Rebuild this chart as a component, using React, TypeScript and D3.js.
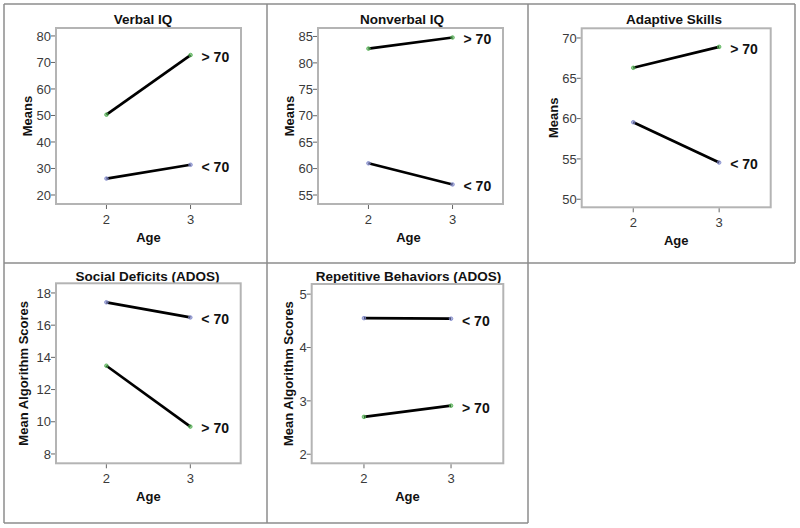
import React from "react";
import * as d3 from "d3";

// ---------- data ----------
const ages = [2, 3];
const panelTitles = [
  "Verbal IQ",
  "Nonverbal IQ",
  "Adaptive Skills",
  "Social Deficits (ADOS)",
  "Repetitive Behaviors (ADOS)",
];
const yAxisTitles = ["Means", "Means", "Means", "Mean Algorithm Scores", "Mean Algorithm Scores"];
const xAxisTitle = "Age";
const groupLabels = ["> 70", "< 70"];

// values at age 2 and 3 for the "> 70" group
const aboveValues = [
  [50.3, 72.8],
  [82.7, 84.8],
  [66.3, 68.9],
  [13.48, 9.7],
  [2.7, 2.91],
];
// values at age 2 and 3 for the "< 70" group
const belowValues = [
  [26.2, 31.4],
  [61.0, 57.0],
  [59.55, 54.55],
  [17.42, 16.48],
  [4.55, 4.54],
];

const yTicks = [
  [20, 30, 40, 50, 60, 70, 80],
  [55, 60, 65, 70, 75, 80, 85],
  [50, 55, 60, 65, 70],
  [8, 10, 12, 14, 16, 18],
  [2, 3, 4, 5],
];
const yDomains = [
  [16.6, 83.0],
  [53.3, 86.6],
  [49.0, 71.2],
  [7.42, 18.6],
  [1.83, 5.19],
];
const xDomain = [1.4, 3.6];

// ---------- layout ----------
const layout = [
  { left: 56, right: 241, top: 28, bottom: 204, titleX: 143, titleY: 24, yTitleX: 31.5 },
  { left: 318, right: 503, top: 28, bottom: 204, titleX: 402, titleY: 24, yTitleX: 294.3 },
  { left: 581.7, right: 770.7, top: 28.3, bottom: 207.3, titleX: 674, titleY: 24, yTitleX: 557.7 },
  { left: 56, right: 240.7, top: 283.3, bottom: 463.3, titleX: 147.5, titleY: 280.7, yTitleX: 28 },
  { left: 311.7, right: 503.3, top: 284, bottom: 463.3, titleX: 408.5, titleY: 280.7, yTitleX: 293 },
];

const FONT = "'Liberation Sans', Arial, Helvetica, sans-serif";
const GRID = "#8c8c8c";
const ABOVE_COLOR = "#4fae4f";
const BELOW_COLOR = "#7d86c9";

function Panel({ i }: { i: number }) {
  const L = layout[i];
  const x = d3.scaleLinear().domain(xDomain).range([L.left, L.right]);
  const y = d3.scaleLinear().domain(yDomains[i]).range([L.bottom, L.top]);
  const line = d3
    .line<[number, number]>()
    .x((d) => x(d[0]))
    .y((d) => y(d[1]));
  const series = [
    { label: groupLabels[0], values: aboveValues[i], color: ABOVE_COLOR },
    { label: groupLabels[1], values: belowValues[i], color: BELOW_COLOR },
  ];
  const cy = (L.top + L.bottom) / 2;
  return (
    <g>
      <text
        x={L.titleX}
        y={L.titleY}
        textAnchor="middle"
        fontFamily={FONT}
        fontWeight="bold"
        fontSize={13.5}
        fill="#111"
      >
        {panelTitles[i]}
      </text>
      <rect
        x={L.left}
        y={L.top}
        width={L.right - L.left}
        height={L.bottom - L.top}
        fill="#fff"
        stroke="#b4b4b4"
        strokeWidth={2}
      />
      {yTicks[i].map((t) => (
        <g key={"y" + t}>
          <line x1={L.left - 5} x2={L.left - 1} y1={y(t)} y2={y(t)} stroke="#666" strokeWidth={1} />
          <text
            x={L.left - 5}
            y={y(t)}
            dy="0.36em"
            textAnchor="end"
            fontFamily={FONT}
            fontSize={13}
            fill="#3a3a3a"
          >
            {t}
          </text>
        </g>
      ))}
      {ages.map((a) => (
        <g key={"x" + a}>
          <line x1={x(a)} x2={x(a)} y1={L.bottom + 1} y2={L.bottom + 5} stroke="#666" strokeWidth={1} />
          <text
            x={x(a)}
            y={L.bottom + 19.5}
            textAnchor="middle"
            fontFamily={FONT}
            fontSize={13}
            fill="#3a3a3a"
          >
            {a}
          </text>
        </g>
      ))}
      <text
        x={(L.left + L.right) / 2 + (i === 1 ? -2 : 0)}
        y={L.bottom + 37.5}
        textAnchor="middle"
        fontFamily={FONT}
        fontWeight="bold"
        fontSize={13}
        fill="#111"
      >
        {xAxisTitle}
      </text>
      <text
        transform={`translate(${L.yTitleX},${cy}) rotate(-90)`}
        textAnchor="middle"
        fontFamily={FONT}
        fontWeight="bold"
        fontSize={13}
        fill="#111"
      >
        {yAxisTitles[i]}
      </text>
      {series.map((s) => {
        const pts: [number, number][] = ages.map((a, k) => [a, s.values[k]]);
        return (
          <g key={s.label}>
            <path d={line(pts) || ""} fill="none" stroke="#000" strokeWidth={2.7} />
            {pts.map((p, k) => (
              <circle
                key={k}
                cx={x(p[0])}
                cy={y(p[1])}
                r={1.8}
                fill={s.color}
                fillOpacity={0.6}
                stroke={s.color}
                strokeWidth={0.8}
              />
            ))}
            <text
              x={x(ages[1]) + 11}
              y={y(s.values[1]) + 2}
              dy="0.35em"
              fontFamily={FONT}
              fontWeight="bold"
              fontSize={14}
              fill="#111"
            >
              {s.label}
            </text>
          </g>
        );
      })}
    </g>
  );
}

export default function App() {
  const gridV = [
    { x: 4, y1: 4, y2: 523 },
    { x: 267, y1: 4, y2: 523 },
    { x: 528, y1: 4, y2: 523 },
    { x: 795, y1: 4, y2: 263 },
  ];
  const gridH = [
    { y: 4, x1: 4, x2: 795 },
    { y: 263, x1: 4, x2: 795 },
    { y: 523, x1: 4, x2: 528 },
  ];
  return (
    <svg
      width={800}
      height={528}
      style={{ position: "absolute", left: 0, top: 0, background: "#fff" }}
    >
      <rect x={0} y={0} width={800} height={528} fill="#fff" />
      {panelTitles.map((_, i) => (
        <Panel key={i} i={i} />
      ))}
      {gridV.map((g, k) => (
        <line key={"v" + k} x1={g.x} x2={g.x} y1={g.y1} y2={g.y2} stroke={GRID} strokeWidth={1.5} />
      ))}
      {gridH.map((g, k) => (
        <line key={"h" + k} x1={g.x1} x2={g.x2} y1={g.y} y2={g.y} stroke={GRID} strokeWidth={1.5} />
      ))}
    </svg>
  );
}
